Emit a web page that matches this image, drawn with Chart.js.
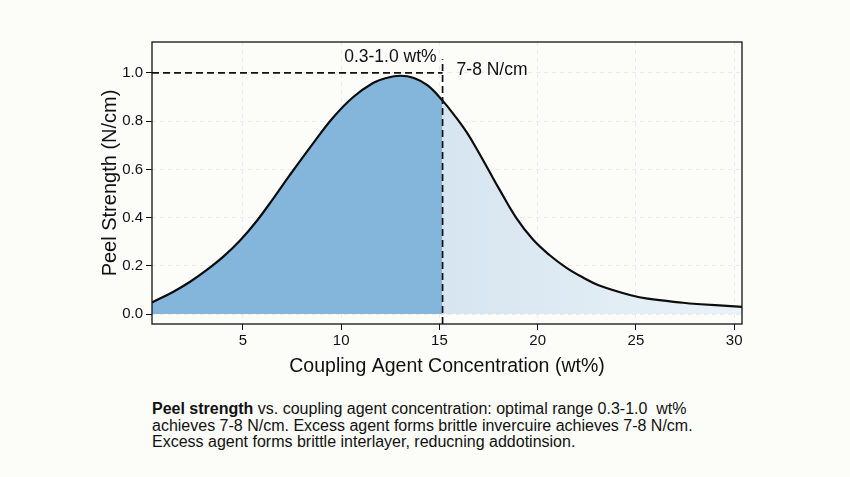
<!DOCTYPE html>
<html>
<head>
<meta charset="utf-8">
<script src="https://cdn.jsdelivr.net/npm/chart.js@4.4.0/dist/chart.umd.min.js"></script>
<style>
    body {
        margin: 0;
        background: #fcfcf9;
        font-family: 'Liberation Sans', Arial, sans-serif;
    }
    #wrap {
        position: relative;
        width: 850px;
        height: 477px;
    }
    #chartBox {
        position: absolute;
        left: 0;
        top: 0;
        width: 850px;
        height: 390px;
    }
    #caption {
        position: absolute;
        left: 152px;
        top: 401px;
        font-size: 16px;
        line-height: 16.5px;
        color: #111;
        white-space: pre;
    }
</style>
</head>
<body>
<div id="wrap">
    <div id="chartBox"><canvas id="peelChart" width="850" height="390"></canvas></div>
    <div id="caption"><b>Peel strength</b> vs. coupling agent concentration: optimal range 0.3-1.0  wt%
achieves 7-8 N/cm. Excess agent forms brittle invercuire achieves 7-8 N/cm.
Excess agent forms brittle interlayer, reducning addotinsion.</div>
</div>
<script>
// concentration (wt%) and peel strength (N/cm)
const concentration = [0.37, 1.46, 2.31, 3.16, 4.0, 4.85, 5.7, 6.54, 7.39, 8.57, 9.59, 10.6, 11.62, 12.3, 13.0, 13.7, 14.4, 15.16, 15.8, 16.4, 17.0, 17.55, 18.06, 18.9, 19.75, 20.6, 21.45, 22.3, 23.1, 24.8, 25.6, 27.4, 28.1, 30.4];
const peelStrength = [0.048, 0.093, 0.134, 0.183, 0.238, 0.305, 0.386, 0.479, 0.577, 0.708, 0.815, 0.899, 0.958, 0.979, 0.988, 0.979, 0.948, 0.885, 0.82, 0.752, 0.67, 0.59, 0.516, 0.4, 0.31, 0.245, 0.193, 0.152, 0.12, 0.077, 0.064, 0.047, 0.042, 0.03];

const xTicks = [5, 10, 15, 20, 25, 30];
const yTicks = [0, 0.2, 0.4, 0.6, 0.8, 1.0];

const xMin = 0.37;
const xMax = 30.4;
const yMin = -0.041;
const yMax = 1.128;

const optimalEdge = 15.16;
const peakLevel = 1.0;
const leftLabel = '0.3-1.0 wt%';
const rightLabel = '7-8 N/cm';

const curve = concentration.map((x, i) => ({ x: x, y: peelStrength[i] }));
const splitIndex = concentration.indexOf(optimalEdge);
const leftPart = curve.slice(0, splitIndex + 1);
const rightPart = curve.slice(splitIndex);

const hLine = [{ x: xMin, y: peakLevel }, { x: optimalEdge, y: peakLevel }];
const vLine = [{ x: optimalEdge, y: yMin }, { x: optimalEdge, y: 1.056 }];

const fontFamily = '"Liberation Sans", Arial, sans-serif';

const frameAndLabels = {
    id: 'frameAndLabels',
    afterDatasetsDraw(chart) {
        const ctx = chart.ctx;
        const a = chart.chartArea;
        const xs = chart.scales.x;
        const ys = chart.scales.y;
        ctx.save();
        ctx.strokeStyle = '#111';
        ctx.lineWidth = 1.3;
        ctx.strokeRect(a.left, a.top, a.right - a.left, a.bottom - a.top);
        ctx.fillStyle = '#111';
        ctx.font = '17.5px ' + fontFamily;
        ctx.textBaseline = 'middle';
        ctx.textAlign = 'right';
        ctx.fillText(leftLabel, xs.getPixelForValue(optimalEdge) - 6, ys.getPixelForValue(1.065));
        ctx.textAlign = 'left';
        ctx.fillText(rightLabel, xs.getPixelForValue(optimalEdge) + 14, ys.getPixelForValue(1.01));
        ctx.restore();
    },
};

const ctxPeel = document.getElementById('peelChart').getContext('2d');
const peelChart = new Chart(ctxPeel, {
    type: 'line',
    data: {
        datasets: [
            {
                data: leftPart,
                order: 3,
                borderWidth: 0,
                pointRadius: 0,
                fill: 'origin',
                backgroundColor: 'rgb(131, 182, 218)',
                tension: 0.4,
            },
            {
                data: rightPart,
                order: 3,
                borderWidth: 0,
                pointRadius: 0,
                fill: 'origin',
                backgroundColor: function (context) {
                    const area = context.chart.chartArea;
                    if (!area) {
                        return 'rgb(220, 233, 242)';
                    }
                    const g = context.chart.ctx.createLinearGradient(area.left + 290, 0, area.right, 0);
                    g.addColorStop(0, 'rgb(214, 229, 240)');
                    g.addColorStop(1, 'rgb(234, 242, 247)');
                    return g;
                },
                tension: 0.4,
            },
            {
                data: curve,
                order: 1,
                borderColor: '#0d0d0d',
                borderWidth: 2.2,
                pointRadius: 0,
                fill: false,
                tension: 0.4,
            },
            {
                data: hLine,
                order: 0,
                borderColor: '#111',
                borderWidth: 1.7,
                borderDash: [7, 4],
                pointRadius: 0,
                fill: false,
            },
            {
                data: vLine,
                order: 0,
                borderColor: '#111',
                borderWidth: 1.7,
                borderDash: [7, 4],
                pointRadius: 0,
                fill: false,
            },
        ],
    },
    options: {
        responsive: false,
        animation: false,
        layout: {
            padding: { left: 98, right: 108, top: 42, bottom: 12 },
        },
        scales: {
            x: {
                type: 'linear',
                min: xMin,
                max: xMax,
                afterBuildTicks: function (scale) {
                    scale.ticks = xTicks.map((v) => ({ value: v }));
                },
                afterFit: function (scale) {
                    scale.height = 54;
                },
                ticks: {
                    color: '#111',
                    padding: 2,
                    maxRotation: 0,
                    font: { size: 15, family: fontFamily },
                },
                grid: {
                    color: '#ececec',
                    tickColor: '#111',
                    tickLength: 6,
                    tickBorderDash: [],
                },
                border: { display: false, dash: [4, 4] },
                title: {
                    display: true,
                    text: 'Coupling Agent Concentration (wt%)',
                    color: '#111',
                    padding: { top: 4, bottom: 0 },
                    font: { size: 19.5, family: fontFamily },
                },
            },
            y: {
                type: 'linear',
                min: yMin,
                max: yMax,
                afterBuildTicks: function (scale) {
                    scale.ticks = yTicks.map((v) => ({ value: v }));
                },
                afterFit: function (scale) {
                    scale.width = 54;
                },
                ticks: {
                    color: '#111',
                    padding: 3,
                    font: { size: 15, family: fontFamily },
                    callback: function (value) {
                        return Number(value).toFixed(1);
                    },
                },
                grid: {
                    color: '#ececec',
                    tickColor: '#111',
                    tickLength: 6,
                    tickBorderDash: [],
                },
                border: { display: false, dash: [4, 4] },
                title: {
                    display: true,
                    text: 'Peel Strength (N/cm)',
                    color: '#111',
                    padding: { top: 0, bottom: 2 },
                    font: { size: 20, family: fontFamily },
                },
            },
        },
        plugins: {
            legend: { display: false },
            tooltip: { enabled: false },
        },
    },
    plugins: [frameAndLabels],
});
</script>
</body>
</html>
